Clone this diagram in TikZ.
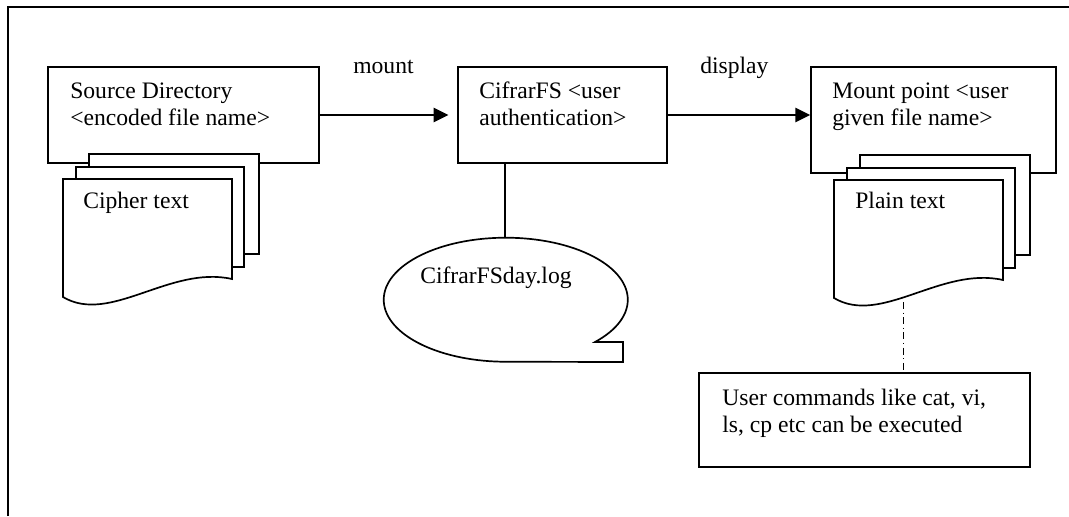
\documentclass[tikz,border=0pt]{standalone}
\usepackage{fontspec}
\setmainfont{Liberation Serif}
\usepackage{tikz}
\usetikzlibrary{arrows.meta,calc}
\tikzset{
    box/.style={draw, rectangle, line width=1.2pt, fill=white, minimum height=2.4cm},
    page/.style={draw, line width=1.2pt, fill=white},
    lbl/.style={anchor=base west, inner sep=0pt, align=left, font=\fontsize{16.8}{19.1}\selectfont},
    arrow/.style={-{Triangle[length=0.37cm, width=0.36cm]}, line width=1.2pt},
    link/.style={line width=1.2pt},
    dashdot/.style={line width=0.7pt, dash pattern=on 5pt off 2.5pt on 0.8pt off 2.5pt},
    frame/.style={line width=1.3pt}
}

\begin{document}
\begin{tikzpicture}[x=0.025cm, y=-0.025cm]
    \useasboundingbox (0,0) rectangle (1069,516);
    \draw[frame] (8,516) -- (8,7) -- (1069,7);

    % boxes
    \node[box, minimum width=6.775cm] (src) at (183.5,115) {};
    \node[box, minimum width=5.225cm] (cif) at (562.5,115) {};
    \node[box, minimum width=6.125cm, minimum height=2.65cm] (mnt) at (933.5,120) {};
    \node[box, minimum width=8.275cm, minimum height=2.35cm] (cmd) at (864.5,420) {};

    % document stacks
    \foreach \ox/\oy in {0/0, 771/1} {
        \draw[page] (\ox+89,\oy+154) rectangle (\ox+259,\oy+254);
        \draw[page] (\ox+76,\oy+167) rectangle (\ox+244,\oy+267);
        \draw[page] (\ox+63,\oy+179) -- (\ox+232,\oy+179) -- (\ox+232,\oy+279)
            .. controls (\ox+170,\oy+265) and (\ox+110,\oy+325) .. (\ox+63,\oy+297) -- cycle;
    }

    % log callout
    \coordinate (logtop) at (505,237);
    \draw[link, fill=white] (595,342) arc[start angle=-43, end angle=270, x radius=3.05cm, y radius=1.55cm]
        -- (623,362) -- (623,342) -- cycle;

    % texts
    \node[lbl] (srctxt) at (70,125) {Source Directory\\<encoded file name>};
    \node[lbl] (ciftxt) at (479,125) {CifrarFS <user\\authentication>};
    \node[lbl] (mnttxt) at (832,125) {Mount point <user\\given file name>};
    \node[lbl] (cmdtxt) at (722,432) {User commands like cat, vi,\\ls, cp etc can be executed};
    \node[lbl] (cipher) at (83,208) {Cipher text};
    \node[lbl] (plain) at (855,208) {Plain text};
    \node[lbl] (logtxt) at (420,283) {CifrarFSday.log};
    \node[lbl] (mountlbl) at (353,73) {mount};
    \node[lbl] (displbl) at (700,73) {display};

    % connectors
    \coordinate (plainbot) at (903,302);
    \draw[arrow, shorten >=0.22cm] (src.east) -- (cif.west);
    \draw[arrow] (cif.east) -- (cif.east -| mnt.west);
    \draw[link] (logtop |- cif.south) -- (logtop);
    \draw[dashdot] (plainbot) -- (plainbot |- cmd.north);
\end{tikzpicture}
\end{document}
